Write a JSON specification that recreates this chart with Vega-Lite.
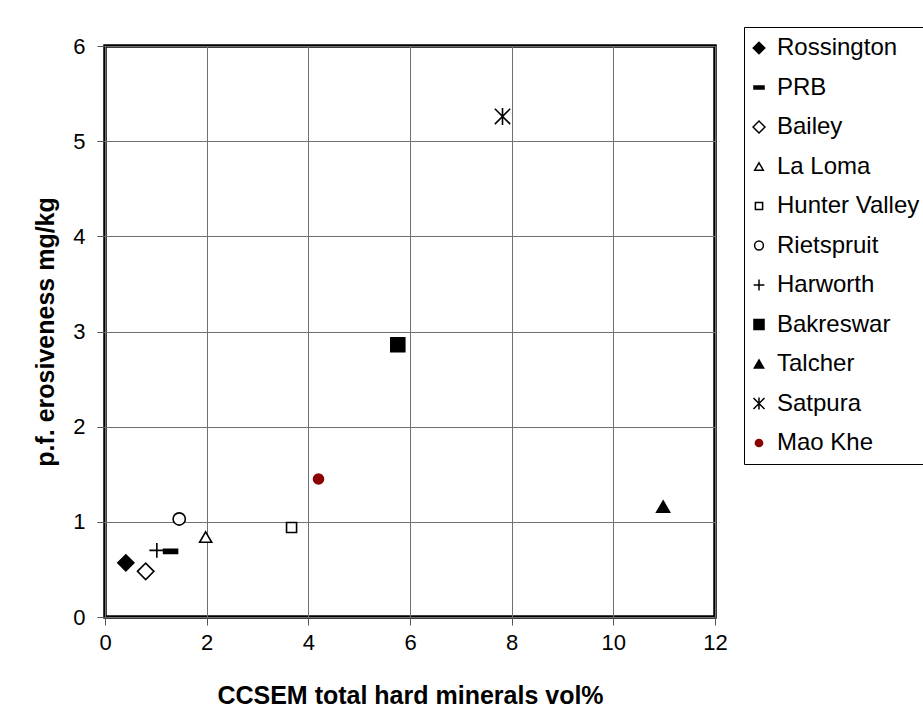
{
  "$schema": "https://vega.github.io/schema/vega-lite/v6.json",
  "width": 610,
  "height": 571,
  "autosize": {"type": "none"},
  "padding": {"left": 105, "top": 46, "right": 208, "bottom": 100},
  "background": "white",
  "data": {
    "values": [
      {"coal": "Rossington", "minerals": 0.41, "erosiveness": 0.57},
      {"coal": "PRB", "minerals": 1.29, "erosiveness": 0.69},
      {"coal": "Bailey", "minerals": 0.80, "erosiveness": 0.48},
      {"coal": "La Loma", "minerals": 1.98, "erosiveness": 0.84},
      {"coal": "Hunter Valley", "minerals": 3.67, "erosiveness": 0.94},
      {"coal": "Rietspruit", "minerals": 1.46, "erosiveness": 1.03},
      {"coal": "Harworth", "minerals": 1.02, "erosiveness": 0.70},
      {"coal": "Bakreswar", "minerals": 5.76, "erosiveness": 2.86},
      {"coal": "Talcher", "minerals": 10.98, "erosiveness": 1.16},
      {"coal": "Satpura", "minerals": 7.82, "erosiveness": 5.26},
      {"coal": "Mao Khe", "minerals": 4.2, "erosiveness": 1.45}
    ]
  },
  "mark": {"type": "point", "opacity": 1, "strokeWidth": 1.6, "size": 289},
  "encoding": {
    "x": {
      "field": "minerals", "type": "quantitative",
      "scale": {"domain": [0, 12], "nice": false},
      "axis": {"values": [0, 2, 4, 6, 8, 10, 12], "title": "CCSEM total hard minerals vol%", "labelPadding": 7, "titlePadding": 30, "labelFlush": false}
    },
    "y": {
      "field": "erosiveness", "type": "quantitative",
      "scale": {"domain": [0, 6], "nice": false},
      "axis": {"values": [0, 1, 2, 3, 4, 5, 6], "title": "p.f. erosiveness mg/kg", "labelPadding": 12, "titlePadding": 14, "labelFlush": false}
    },
    "shape": {
      "field": "coal", "type": "nominal",
      "scale": {
        "domain": ["Rossington", "PRB", "Bailey", "La Loma", "Hunter Valley", "Rietspruit", "Harworth", "Bakreswar", "Talcher", "Satpura", "Mao Khe"],
        "range": [
          "M-0.94,0L0,-0.94L0.94,0L0,0.94Z",
          "M-0.82,-0.24H0.82V0.24H-0.82Z",
          "M-0.97,0L0,-0.97L0.97,0L0,0.97Z",
          "M0,-0.61L0.71,0.61L-0.71,0.61Z",
          "M-0.59,-0.59H0.59V0.59H-0.59Z",
          "M0.72,0A0.72,0.72,0,1,1,-0.72,0A0.72,0.72,0,1,1,0.72,0Z",
          "M-0.88,0H0.88M0,-0.88V0.88",
          "M-0.82,-0.82H0.82V0.82H-0.82Z",
          "M0,-0.66L0.76,0.66L-0.76,0.66Z",
          "M-0.9,-0.9L0.9,0.9M-0.9,0.9L0.9,-0.9M0,-1V1",
          "M0.59,0A0.59,0.59,0,1,1,-0.59,0A0.59,0.59,0,1,1,0.59,0Z"
        ]
      },
      "legend": {"title": null, "orient": "none", "legendX": 639, "legendY": -19}
    },
    "fill": {
      "field": "coal", "type": "nominal",
      "scale": {
        "domain": ["Rossington", "PRB", "Bailey", "La Loma", "Hunter Valley", "Rietspruit", "Harworth", "Bakreswar", "Talcher", "Satpura", "Mao Khe"],
        "range": ["black", "black", "white", "white", "white", "white", "transparent", "black", "black", "transparent", "#8B0000"]
      },
      "legend": {"title": null, "orient": "none", "legendX": 639, "legendY": -19}
    },
    "stroke": {
      "field": "coal", "type": "nominal",
      "scale": {
        "domain": ["Rossington", "PRB", "Bailey", "La Loma", "Hunter Valley", "Rietspruit", "Harworth", "Bakreswar", "Talcher", "Satpura", "Mao Khe"],
        "range": ["black", "black", "black", "black", "black", "black", "black", "black", "black", "black", "#8B0000"]
      },
      "legend": {"title": null, "orient": "none", "legendX": 639, "legendY": -19}
    }
  },
  "config": {
    "font": "Liberation Sans",
    "view": {"stroke": "black", "strokeWidth": 3.5},
    "axis": {
      "labelFont": "Liberation Sans", "labelFontSize": 22, "labelColor": "black",
      "titleFont": "Liberation Sans", "titleFontSize": 25, "titleFontWeight": "bold", "titleColor": "black",
      "domain": false,
      "grid": true, "gridColor": "#707070", "gridWidth": 1, "gridOpacity": 1,
      "ticks": true, "tickColor": "#555555", "tickSize": 8, "tickWidth": 1
    },
    "legend": {
      "strokeColor": "black", "fillColor": "white", "padding": 9,
      "labelFont": "Liberation Sans", "labelFontSize": 24, "labelColor": "black", "labelLimit": 400,
      "labelOffset": 6, "symbolOffset": -6, "symbolSize": 150, "symbolStrokeWidth": 1.5, "rowPadding": 15.5
    }
  }
}
